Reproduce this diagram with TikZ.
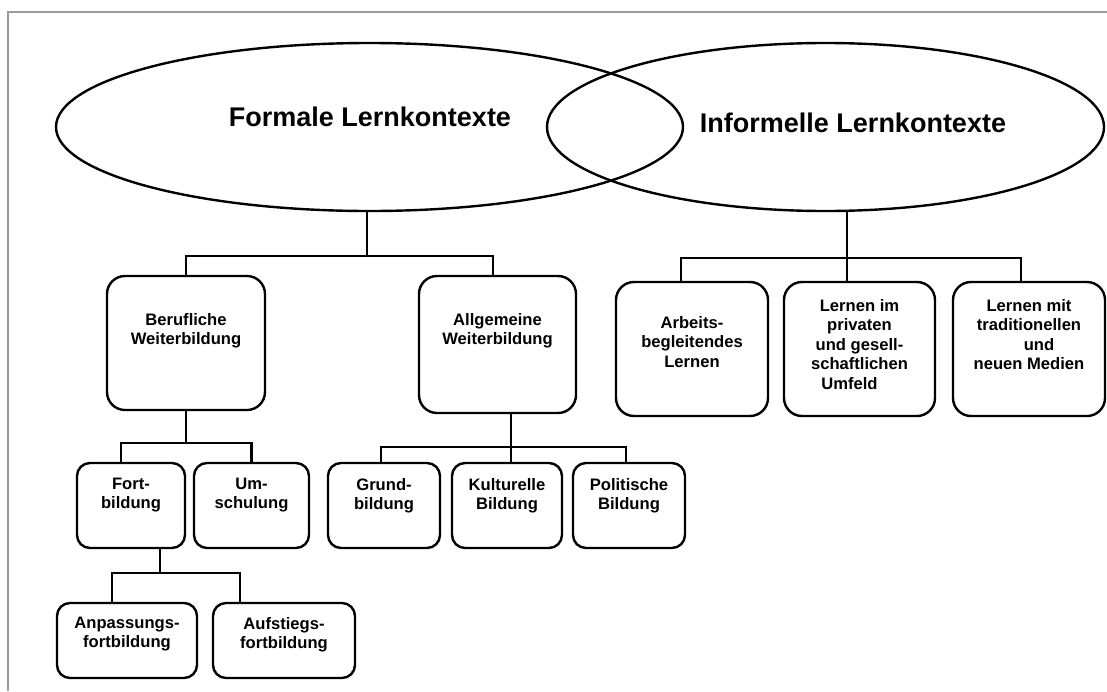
\documentclass[tikz,border=0pt]{standalone}
\usepackage{fontspec}
\setmainfont{Liberation Sans}
\usetikzlibrary{shapes.geometric,calc}
\definecolor{framegray}{RGB}{155,155,155}
\begin{document}
\begin{tikzpicture}[x=1pt,y=-1pt,
  line width=2.4pt,
  ctx/.style={draw, ellipse, inner sep=0pt},
  bigbox/.style={draw, rectangle, rounded corners=18pt, inner sep=0pt},
  smallbox/.style={draw, rectangle, rounded corners=13pt, inner sep=0pt},
  head/.style={font=\bfseries\fontsize{27}{32}\selectfont, inner sep=0pt},
  lbl/.style={font=\bfseries\fontsize{16.6}{19.5}\selectfont, align=center, inner sep=0pt, anchor=north},
  link/.style={line width=2.4pt, line cap=rect}]

\useasboundingbox (0,0) rectangle (1107,691);

% outer frame
\draw[framegray, line width=1.5pt] (8,691) -- (8,12) -- (1107,12);

% the two overlapping contexts
\node[ctx, minimum width=627pt, minimum height=168pt] (fl) at (369.5,127) {};
\node[ctx, minimum width=557pt, minimum height=168pt] (il) at (825.5,127) {};
\node[head] (flt) at (370,117) {Formale Lernkontexte};
\node[head] (ilt) at (853,123) {Informelle Lernkontexte};

% formal branch
\node[bigbox, minimum width=158pt, minimum height=134pt] (bw) at (186,343) {};
\node[bigbox, minimum width=157pt, minimum height=137pt] (aw) at (497.5,344.5) {};
\node[lbl] (bwt) at ([yshift=-37pt]bw.north) {Berufliche\\Weiterbildung};
\node[lbl] (awt) at ([yshift=-37pt]aw.north) {Allgemeine\\Weiterbildung};

\node[smallbox, minimum width=108pt, minimum height=85pt] (fb) at (131,505.5) {};
\node[smallbox, minimum width=115pt, minimum height=85pt] (us) at (251.5,505.5) {};
\node[smallbox, minimum width=112pt, minimum height=85pt] (gb) at (384,505.5) {};
\node[smallbox, minimum width=110pt, minimum height=85pt] (kb) at (507,505.5) {};
\node[smallbox, minimum width=112pt, minimum height=85pt] (pb) at (629,505.5) {};
\node[lbl] (fbt) at ([yshift=-15pt]fb.north) {Fort-\\bildung};
\node[lbl] (ust) at ([yshift=-15pt]us.north) {Um-\\schulung};
\node[lbl] (gbt) at ([yshift=-15pt]gb.north) {Grund-\\bildung};
\node[lbl] (kbt) at ([yshift=-15pt]kb.north) {Kulturelle\\Bildung};
\node[lbl] (pbt) at ([yshift=-15pt]pb.north) {Politische\\Bildung};

\node[smallbox, minimum width=140pt, minimum height=75pt] (af) at (127,640.5) {};
\node[smallbox, minimum width=142pt, minimum height=75pt] (sf) at (284,640.5) {};
\node[lbl] (aft) at ([yshift=-14pt]af.north) {Anpassungs-\\fortbildung};
\node[lbl] (sft) at ([yshift=-14pt]sf.north) {Aufstiegs-\\fortbildung};

% informal branch
\node[bigbox, minimum width=152pt, minimum height=134pt] (abl) at (692,349) {};
\node[bigbox, minimum width=151pt, minimum height=134pt] (lpg) at (859.5,349) {};
\node[bigbox, minimum width=152pt, minimum height=134pt] (ltm) at (1029,349) {};
\node[lbl] (ablt) at ([yshift=-34pt]abl.north) {Arbeits-\\begleitendes\\Lernen};
\node[lbl] (lpgt) at ([yshift=-17pt]lpg.north) {Lernen im\\privaten\\und gesell-\\schaftlichen\\\hspace*{-20pt}Umfeld};
\node[lbl] (ltmt) at ([yshift=-17pt]ltm.north) {Lernen mit\\traditionellen\\\hspace*{20pt}und\\neuen Medien};

% connectors
\coordinate (j1) at (367,256);
\draw[link] (fl.south -| j1) -- (j1);
\draw[link] (bw.north) |- (j1) -| ($(aw.north)+(-4.5,0)$);

\coordinate (j2) at (847,258);
\draw[link] (il.south -| j2) -- (lpg.north -| j2);
\draw[link] ($(abl.north)+(-11,0)$) |- (j2) -| ($(ltm.north)+(-8,0)$);

\coordinate (j3) at (186,443);
\draw[link] (bw.south) -- (j3);
\draw[link] ($(fb.north)+(-10,0)$) |- (j3) -| (us.north);

\coordinate (j4) at (160,573);
\draw[link] (fb.south -| j4) -- (j4);
\draw[link] ($(af.north)+(-15,0)$) |- (j4) -| ($(sf.north)+(-44,0)$);

\coordinate (j5) at (511,447);
\draw[link] (aw.south -| j5) -- (kb.north -| j5);
\draw[link] ($(gb.north)+(-3,0)$) |- (j5) -| ($(pb.north)+(-3,0)$);
\end{tikzpicture}
\end{document}
